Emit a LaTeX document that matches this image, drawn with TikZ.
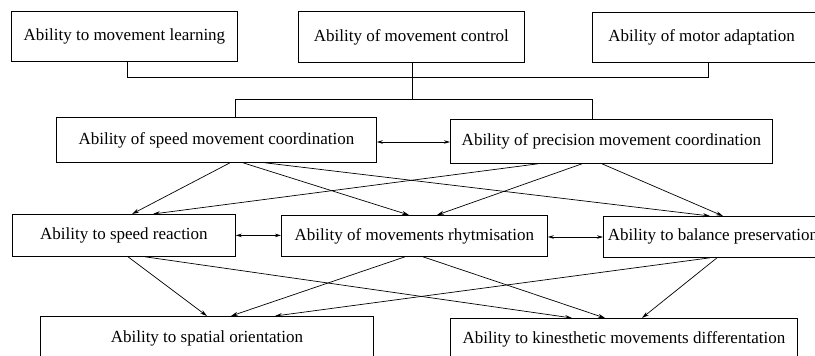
\documentclass[tikz,border=0pt]{standalone}
\usepackage{fontspec}
\setmainfont{Liberation Serif}
\usetikzlibrary{arrows.meta,calc}
\begin{document}
\begin{tikzpicture}[x=1pt,y=-1pt,
  box/.style={draw, line width=0.8pt, inner sep=0pt, anchor=north west, font=\fontsize{17}{20}\selectfont},
  conn/.style={line width=0.8pt},
  arr/.style={line width=0.7pt, -{Stealth[length=7pt,width=4pt]}},
  dbl/.style={line width=0.7pt, {Stealth[length=6pt,width=3.5pt]}-{Stealth[length=6pt,width=3.5pt]}}]
\useasboundingbox (0,0) rectangle (815,356);
\fill[white] (0,0) rectangle (815,356);

% top row
\node[box, minimum width=226pt, minimum height=50pt] (B1) at (11,11) {Ability to movement learning};
\node[box, minimum width=226pt, minimum height=51pt] (B2) at (298,11) {Ability of movement control};
\node[box, minimum height=50pt, inner xsep=16pt] (B3) at (592,12) {\makebox[260pt][l]{Ability of motor adaptation}};
% middle row
\node[box, minimum width=320pt, minimum height=45pt] (M1) at (56,117) {Ability of speed movement coordination};
\node[box, minimum width=322pt, minimum height=44pt] (M2) at (450,119) {Ability of precision movement coordination};
% third row
\node[box, minimum width=223pt, minimum height=42pt] (R1) at (12,214) {Ability to speed reaction};
\node[box, minimum width=266pt, minimum height=41pt] (R2) at (281,215) {Ability of movements rhytmisation};
\node[box, minimum height=41pt, inner xsep=4.5pt] (R3) at (603,216) {\makebox[280pt][l]{Ability to balance preservation}};
% bottom row
\node[box, minimum width=333pt, text height=26pt, text depth=40pt] (S1) at (40,316) {Ability to spatial orientation};
\node[box, minimum width=347pt, text height=25pt, text depth=40pt] (S2) at (450,318) {Ability to kinesthetic movements differentation};

% tree connectors
\coordinate (h1) at (0,77);
\coordinate (h2) at (0,99);
\coordinate (b1) at ($(B1.south west)+(116,0)$);
\coordinate (b2) at ($(B2.south west)+(114,0)$);
\coordinate (b3) at ($(B3.south west)+(116,0)$);
\coordinate (m1t) at ($(M1.north west)+(179,0)$);
\coordinate (m2t) at ($(M2.north west)+(142,0)$);
\draw[conn] (b1) |- (h1 -| b3) -- (b3);
\draw[conn] (b2) -- (b2 |- h2);
\draw[conn] (m1t) |- (h2 -| m2t) -- (m2t);

% double arrows
\coordinate (y1) at (0,142);
\coordinate (y3) at (0,237);
\draw[dbl] (M1.east |- y1) -- (M2.west |- y1);
\draw[dbl] (R1.east) -- (R1.east -| R2.west);
\draw[dbl] (R2.east |- y3) -- (R3.west |- y3);

% middle to third row
\draw[arr] ($(M1.south west)+(174,0)$) -- ($(R1.north west)+(120,0)$);
\draw[arr] ($(M1.south west)+(187,0)$) -- ($(R2.north west)+(128,0)$);
\draw[arr] ($(M1.south west)+(209,0)$) -- ($(R3.north west)+(107,0)$);
\draw[arr] ($(M2.south west)+(88,0)$) -- ($(R1.north west)+(141,0)$);
\draw[arr] ($(M2.south west)+(132,0)$) -- ($(R2.north west)+(156,0)$);
\draw[arr] ($(M2.south west)+(152,0)$) -- ($(R3.north west)+(120,0)$);

% third row to bottom row
\draw[arr] ($(R1.south west)+(116,0)$) -- ($(S1.north west)+(167,0)$);
\draw[arr] ($(R1.south west)+(133,0)$) -- ($(S2.north west)+(122,0)$);
\draw[arr] ($(R2.south west)+(124,0)$) -- ($(S1.north west)+(191,0)$);
\draw[arr] ($(R2.south west)+(142,0)$) -- ($(S2.north west)+(155,0)$);
\draw[arr] ($(R3.south west)+(107,0)$) -- ($(S1.north west)+(235,0)$);
\draw[arr] ($(R3.south west)+(114,0)$) -- ($(S2.north west)+(192,0)$);
\end{tikzpicture}
\end{document}
